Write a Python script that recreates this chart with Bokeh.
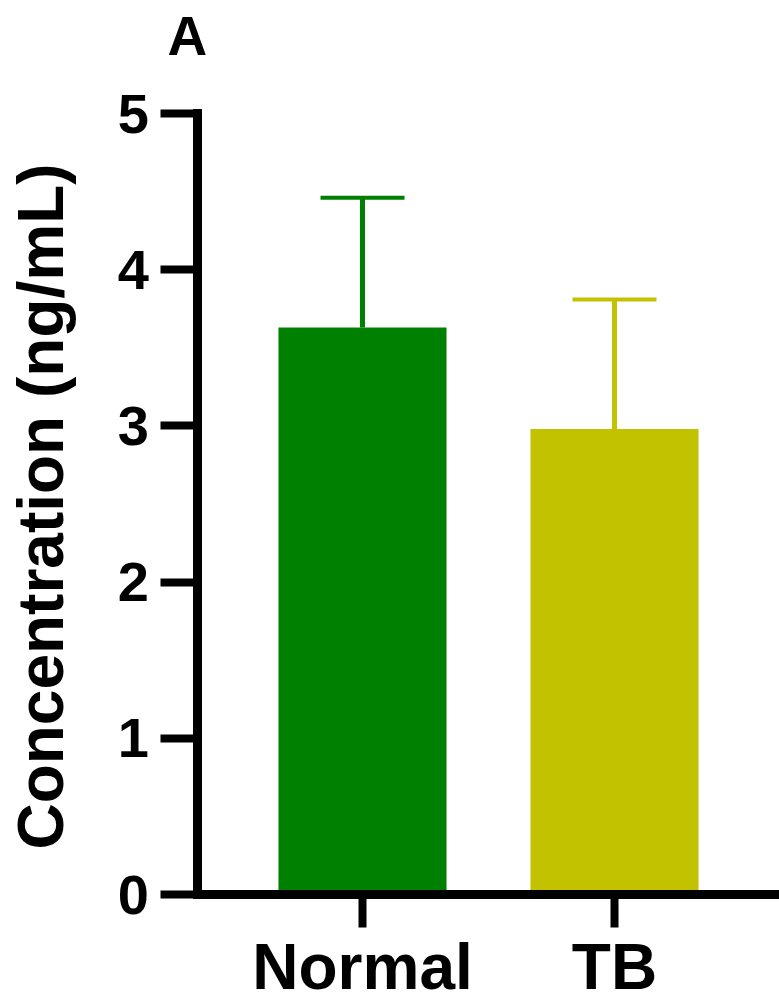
import math
from bokeh.plotting import figure
from bokeh.models import (Range1d, FixedTicker, Whisker, TeeHead, ColumnDataSource, Label)
from bokeh.embed import file_html
from bokeh.resources import INLINE

categories = ["Normal", "TB"]
means = [3.63, 2.98]
sds = [0.83, 0.83]
colors = ["#008000", "#c2c200"]
y_ticks = [0, 1, 2, 3, 4, 5]
y_label = "Concentration (ng/mL)"
panel_letter = "A"

FONT = "Liberation Sans"
W, H = 779, 996

# layout (pixels): category spacing, first category centre, y scale and zero line
PX_PER_CAT = 252.0
FIRST_CAT_PX = 362.0
PX_PER_UNIT = 156.2
ZERO_PX = 894.0
YAXIS_PX = 196.5


def px_to_x(px):
    return 1 + (px - FIRST_CAT_PX) / PX_PER_CAT


def px_to_y(py):
    return (ZERO_PX - py) / PX_PER_UNIT


xs = [i + 1 for i in range(len(categories))]
upper = [m + s for m, s in zip(means, sds)]
src = ColumnDataSource(dict(x=xs, top=means, upper=upper, color=colors))

x_start, x_end = px_to_x(0), px_to_x(W)
y_start, y_end = px_to_y(H), px_to_y(0)
yaxis_x = px_to_x(YAXIS_PX)

p = figure(width=W, height=H, output_backend="svg", toolbar_location=None,
           x_range=Range1d(x_start, x_end), y_range=Range1d(y_start, y_end),
           min_border_left=0, min_border_right=0, min_border_top=0,
           min_border_bottom=0)
p.outline_line_color = None
p.xgrid.visible = False
p.ygrid.visible = False
p.background_fill_color = "white"
p.border_fill_color = "white"

p.vbar(x="x", top="top", width=0.667, bottom=0, color="color", line_color=None,
       source=src)

for i in range(len(xs)):
    s = ColumnDataSource(dict(x=[xs[i]], lower=[means[i]], upper=[upper[i]]))
    w = Whisker(base="x", lower="lower", upper="upper", source=s,
                line_color=colors[i], line_width=5,
                upper_head=TeeHead(size=84, line_color=colors[i], line_width=4),
                lower_head=None)
    p.add_layout(w)

# axes styling
for ax in (p.xaxis[0], p.yaxis[0]):
    ax.axis_line_color = "black"
    ax.axis_line_width = 9
    ax.axis_line_cap = "square"
    ax.major_tick_line_color = "black"
    ax.major_tick_line_width = 8
    ax.major_tick_in = 0
    ax.minor_tick_line_color = None

p.yaxis.ticker = FixedTicker(ticks=y_ticks)
p.yaxis.fixed_location = yaxis_x
p.yaxis.bounds = (y_ticks[0], y_ticks[-1])
p.yaxis.major_tick_out = 37
p.yaxis.major_label_standoff = 11
p.yaxis.major_label_text_font = FONT
p.yaxis.major_label_text_font_style = "bold"
p.yaxis.major_label_text_font_size = "56px"
p.yaxis.major_label_text_color = "black"

p.xaxis.ticker = FixedTicker(ticks=xs)
p.xaxis.fixed_location = 0
p.xaxis.bounds = (yaxis_x, x_end)
p.xaxis.major_tick_out = 33
p.xaxis.major_label_overrides = {x: c for x, c in zip(xs, categories)}
p.xaxis.major_label_text_font = FONT
p.xaxis.major_label_text_font_style = "bold"
p.xaxis.major_label_text_font_size = "64px"
p.xaxis.major_label_text_color = "black"
p.xaxis.major_label_standoff = 3

ylab = Label(x=px_to_x(40), y=px_to_y(506), text=y_label, angle=math.pi / 2,
             text_align="center", text_baseline="alphabetic",
             text_font=FONT, text_font_style="bold", text_font_size="64px",
             text_color="black")
p.add_layout(ylab)

letter = Label(x=px_to_x(167), y=px_to_y(35), text=panel_letter,
               text_align="left", text_baseline="alphabetic",
               text_font=FONT, text_font_style="bold", text_font_size="55px",
               text_color="black")
p.add_layout(letter)

open("out.html", "w").write(file_html(p, INLINE))
